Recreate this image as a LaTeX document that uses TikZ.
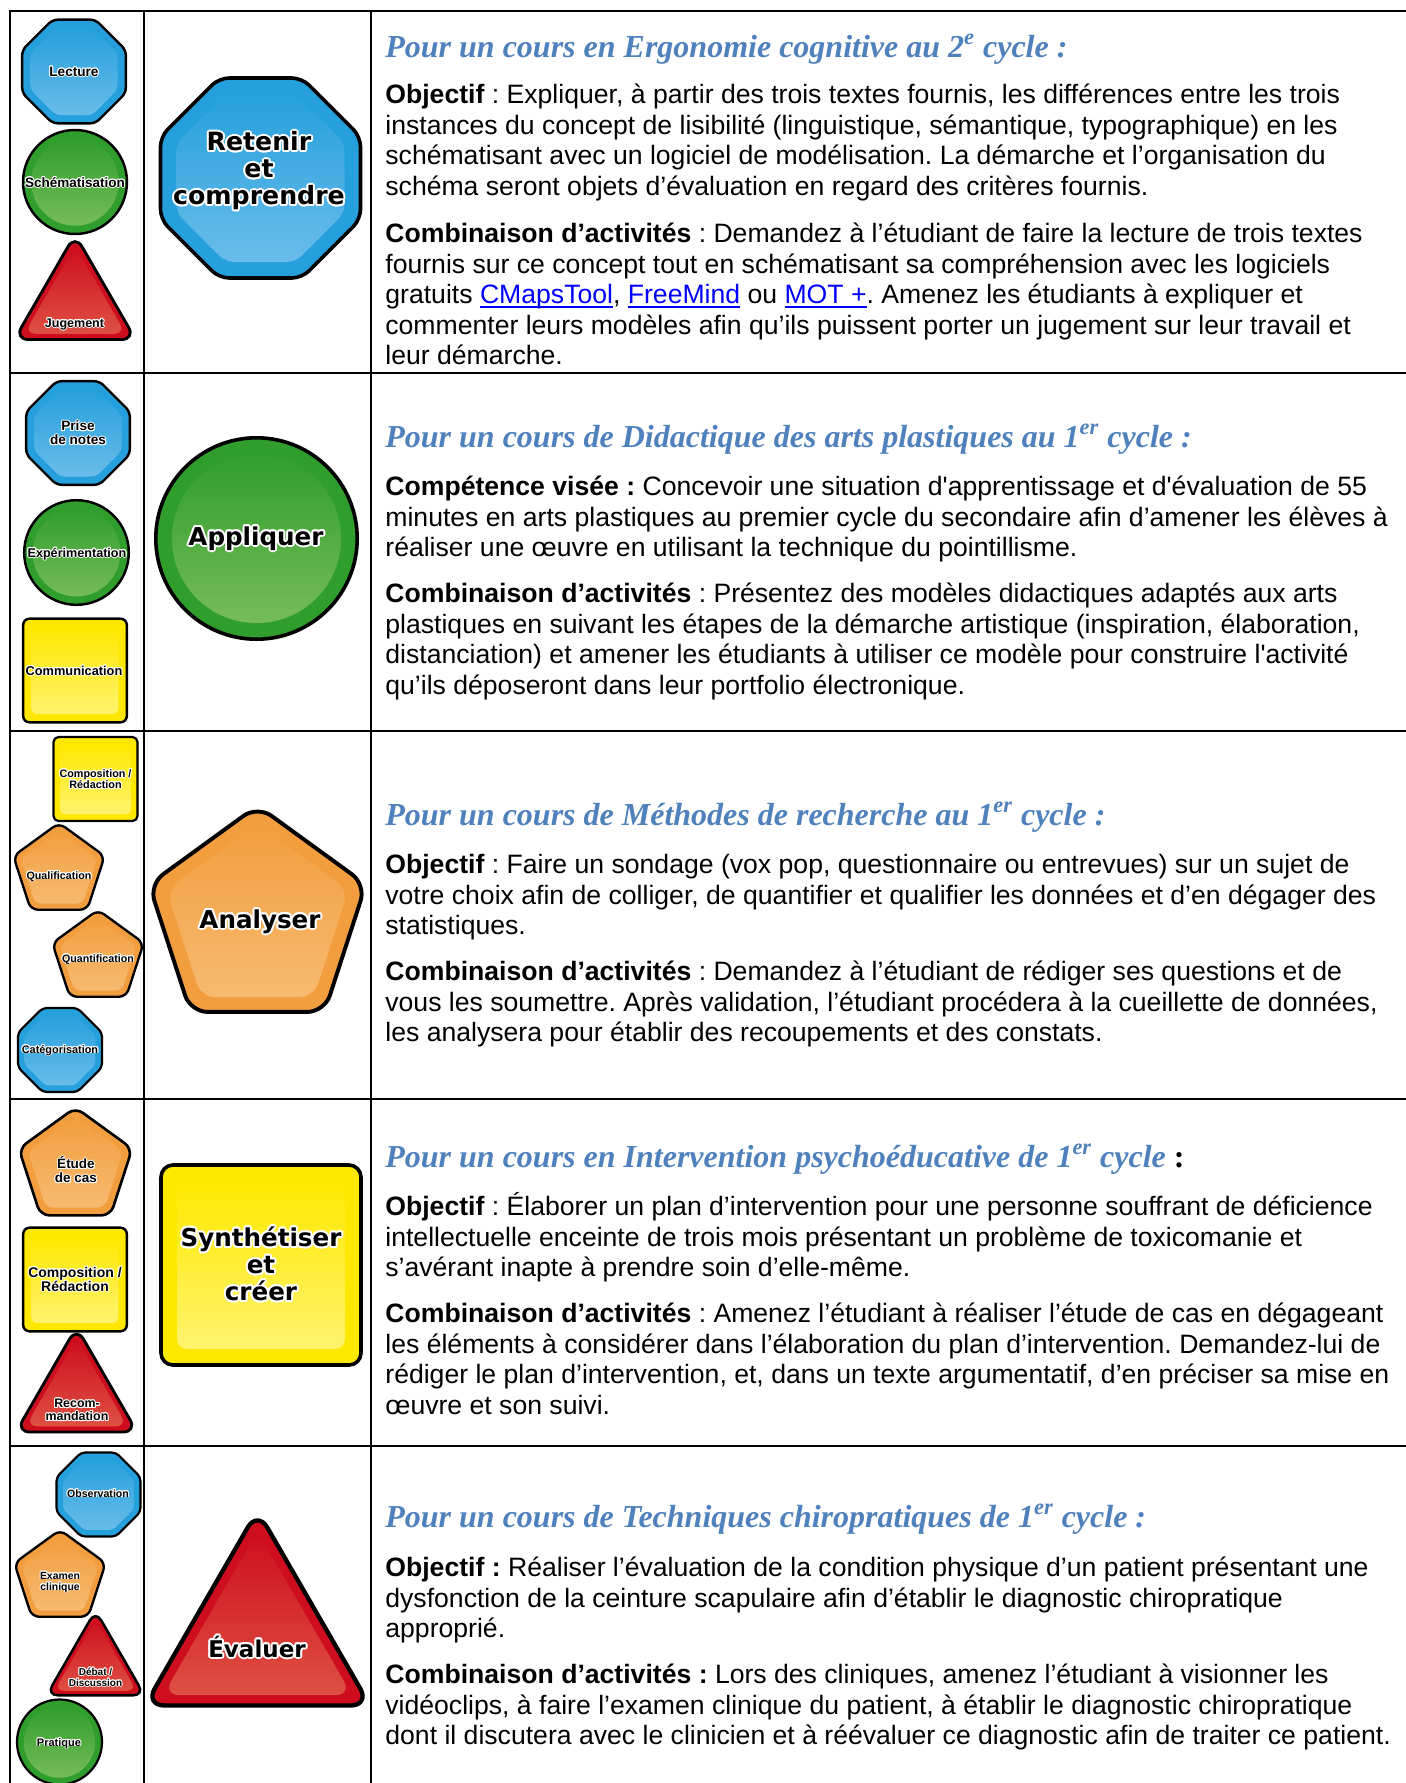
\documentclass[tikz,border=0pt]{standalone}
\usepackage{fontspec}
\setmainfont{Liberation Sans}
\newfontfamily\tnr{Liberation Serif}
\newfontfamily\dvs{DejaVu Sans}
\usetikzlibrary{calc}
\definecolor{headblue}{RGB}{79,129,189}
\definecolor{linkblue}{RGB}{0,0,255}
\definecolor{blueB}{RGB}{38,160,220}
\definecolor{blueL}{RGB}{105,188,234}
\definecolor{greenB}{RGB}{48,158,44}
\definecolor{greenL}{RGB}{118,188,88}
\definecolor{yelB}{RGB}{255,232,0}
\definecolor{yelL}{RGB}{255,243,110}
\definecolor{orB}{RGB}{242,158,62}
\definecolor{orL}{RGB}{247,186,112}
\definecolor{redB}{RGB}{206,14,30}
\definecolor{redL}{RGB}{222,80,66}
\newcommand\glossy[6]{%
 \begin{scope}[shift={(#1,#2)},scale=#3]
  \fill[#4B, rounded corners=#3*#6pt] #5;
  \begin{scope}[scale=0.84]
   \shade[rounded corners=#3*#6*0.84pt, top color=#4B, bottom color=#4L] #5;
  \end{scope}
  \draw[line width=0.6pt+#3*0.012pt, rounded corners=#3*#6pt, line join=round] #5;
 \end{scope}}
\newcommand\octo[3]{\glossy{#1}{#2}{#3}{blue}{(0,-1) -- (0.4142,-1) -- (1,-0.4142) -- (1,0.4142) -- (0.4142,1) -- (-0.4142,1) -- (-1,0.4142) -- (-1,-0.4142) -- (-0.4142,-1) -- cycle}{0.05}}
\newcommand\ball[3]{\glossy{#1}{#2}{#3}{green}{(0,0) circle [radius=1]}{0}}
\newcommand\penta[3]{\glossy{#1}{#2}{#3}{or}{(0,0.809) -- (-0.5878,0.809) -- (-0.9511,-0.309) -- (0,-1) -- (0.9511,-0.309) -- (0.5878,0.809) -- cycle}{0.075}}
\newcommand\tri[4]{\glossy{#1}{#2}{#3}{red}{(0,0.5) -- (-0.866,0.5) -- (0,-1) -- (0.866,0.5) -- cycle}{#4}}
\newcommand\squ[3]{\glossy{#1}{#2}{#3}{yel}{(0,1) -- (-1,1) -- (-1,-1) -- (1,-1) -- (1,1) -- cycle}{0.06}}
\newcommand\lf[2]{\bfseries\fontsize{#1}{#2}\selectfont}
\newcommand\bigf[1]{\dvs\bfseries\fontsize{#1}{13.5}\selectfont}
\tikzset{
 lblhalo/.style={text=white, inner sep=0, align=center},
 lblmain/.style={text=black, inner sep=0, align=center},
 head/.style={anchor=base west, inner sep=0, text=headblue, font=\tnr\bfseries\itshape\fontsize{16}{18}\selectfont},
 body/.style={anchor=north west, inner sep=0, align=left, font=\fontsize{13.3}{15.3}\selectfont\frenchspacing},
 tbl/.style={line width=1.1pt, black, line cap=rect}
}
\newcommand\lbl[7]{%
 \foreach \a in {0,30,...,330}{\node[lblhalo, anchor=#4, font=#5] at ([shift={(\a:#6)}]#2,#3) {#7};}
 \node[lblmain, anchor=#4, font=#5] (#1) at (#2,#3) {#7};}
\newcommand\tstrut{\rule{0pt}{13pt}}
\newcommand\lnk[1]{{\color{linkblue}\setbox0=\hbox{#1}\rlap{\raisebox{-2pt}{\rule{\wd0}{0.7pt}}}\box0}}
\newcommand\sq{\textquotesingle}
\begin{document}
\begin{tikzpicture}[x=0.5pt,y=-0.5pt]
\useasboundingbox (0,0) rectangle (1405,1783);
\fill[white] (0,0) rectangle (1405,1783);
% ---- row 1
\octo{74}{71.5}{51.8}
\ball{75}{182}{52}
\tri{75}{304.5}{70}{0.1}
\octo{260.5}{178}{100}
% ---- row 2
\octo{78}{433}{51.8}
\ball{76.5}{552.5}{52.3}
\squ{75}{670.5}{51.8}
\ball{256.5}{538.5}{100.7}
% ---- row 3
\squ{95.5}{779}{42}
\penta{59}{870.9}{48}
\penta{98}{957.9}{48}
\octo{60}{1050}{42}
\penta{257.5}{919.7}{114}
% ---- row 4
\penta{75.5}{1167.1}{59.6}
\squ{75}{1279.5}{51.8}
\tri{76.5}{1397}{70}{0.1}
\squ{261}{1265}{100}
% ---- row 5
\octo{98.5}{1494.5}{42}
\penta{60}{1577.9}{48}
\tri{95.5}{1667}{56.5}{0.1}
\ball{59.5}{1742}{42.5}
\tri{257.5}{1640.5}{130}{0.075}
% ---- labels
\lbl{lLecture}{74}{76}{base}{\lf{6.8}{7}}{0.5pt}{Lecture}
\lbl{lSchem}{75}{187}{base}{\lf{6.75}{7}}{0.5pt}{Schématisation}
\lbl{lJug}{74.5}{327}{base}{\lf{6.25}{7}}{0.5pt}{Jugement}
\lbl{lRet}{259}{171}{center}{\bigf{12.6}}{1pt}{Retenir\\et\\comprendre}
\lbl{lPrise}{78}{433}{center}{\lf{6.8}{7}}{0.5pt}{Prise\\de notes}
\lbl{lExp}{77}{557}{base}{\lf{6.3}{7}}{0.5pt}{Expérimentation}
\lbl{lComm}{74}{675}{base}{\lf{6.4}{7}}{0.5pt}{Communication}
\lbl{lApp}{256}{545}{base}{\bigf{12.3}}{1pt}{Appliquer}
\lbl{lComp1}{95.5}{779}{center}{\lf{5.4}{5.5}}{0.45pt}{Composition /\\Rédaction}
\lbl{lQual}{59}{879}{base}{\lf{5.35}{6}}{0.45pt}{Qualification}
\lbl{lQuant}{98}{962}{base}{\lf{5.35}{6}}{0.45pt}{Quantification}
\lbl{lCat}{60}{1053}{base}{\lf{5.45}{6}}{0.45pt}{Catégorisation}
\lbl{lAna}{260}{928}{base}{\bigf{12.3}}{1pt}{Analyser}
\lbl{lEtude}{76}{1170}{center}{\lf{6.75}{7}}{0.5pt}{Étude\\de cas}
\lbl{lComp2}{75}{1279}{center}{\lf{7}{7}}{0.5pt}{Composition /\\Rédaction}
\lbl{lRecom}{77}{1410}{center}{\lf{6.2}{6.5}}{0.5pt}{Recom-\\mandation}
\lbl{lSynth}{261}{1264}{center}{\bigf{12.3}}{1pt}{Synthétiser\\et\\créer}
\lbl{lObs}{98}{1497}{base}{\lf{5.3}{6}}{0.45pt}{Observation}
\lbl{lExam}{60}{1582}{center}{\lf{5.2}{5.5}}{0.45pt}{Examen\\clinique}
\lbl{lDeb}{95.5}{1677}{center}{\lf{5}{5.5}}{0.45pt}{Débat /\\Discussion}
\lbl{lPrat}{59}{1746}{base}{\lf{5.5}{6}}{0.45pt}{Pratique}
\lbl{lEval}{257}{1657}{base}{\bigf{11.5}}{1pt}{Évaluer}
% ---- texts row 1
\node[head] (h1) at (385,57) {Pour un cours en Ergonomie cognitive au 2\textsuperscript{e} cycle :};
\node[body] (r1a) at (385,77) {\tstrut\textbf{Objectif} : Expliquer, à partir des trois textes fournis, les différences entre les trois\\instances du concept de lisibilité (linguistique, sémantique, typographique) en les\\schématisant avec un logiciel de modélisation. La démarche et l’organisation du\\schéma seront objets d’évaluation en regard des critères fournis.};
\node[body] (r1b) at (385,216) {\tstrut\textbf{Combinaison d’activités} : Demandez à l’étudiant de faire la lecture de trois textes\\fournis sur ce concept tout en schématisant sa compréhension avec les logiciels\\gratuits \lnk{CMapsTool}, \lnk{FreeMind} ou \lnk{MOT +}. Amenez les étudiants à expliquer et\\commenter leurs modèles afin qu’ils puissent porter un jugement sur leur travail et\\leur démarche.};
% ---- row 2
\node[head] (h2) at (385,447) {Pour un cours de Didactique des arts plastiques au 1\textsuperscript{er} cycle :};
\node[body] (r2a) at (385,469) {\tstrut\textbf{Compétence visée :} Concevoir une situation d\sq apprentissage et d\sq évaluation de 55\\minutes en arts plastiques au premier cycle du secondaire afin d’amener les élèves à\\réaliser une œuvre en utilisant la technique du pointillisme.};
\node[body] (r2b) at (385,576) {\tstrut\textbf{Combinaison d’activités} : Présentez des modèles didactiques adaptés aux arts\\plastiques en suivant les étapes de la démarche artistique (inspiration, élaboration,\\distanciation) et amener les étudiants à utiliser ce modèle pour construire l\sq activité\\qu’ils déposeront dans leur portfolio électronique.};
% ---- row 3
\node[head] (h3) at (385,825) {Pour un cours de Méthodes de recherche au 1\textsuperscript{er} cycle :};
\node[body] (r3a) at (385,847) {\tstrut\textbf{Objectif} : Faire un sondage (vox pop, questionnaire ou entrevues) sur un sujet de\\votre choix afin de colliger, de quantifier et qualifier les données et d’en dégager des\\statistiques.};
\node[body] (r3b) at (385,954) {\tstrut\textbf{Combinaison d’activités} : Demandez à l’étudiant de rédiger ses questions et de\\vous les soumettre. Après validation, l’étudiant procédera à la cueillette de données,\\les analysera pour établir des recoupements et des constats.};
% ---- row 4
\node[head] (h4) at (385,1167) {Pour un cours en Intervention psychoéducative de 1\textsuperscript{er} cycle{\color{black}\upshape\ :}};
\node[body] (r4a) at (385,1189) {\tstrut\textbf{Objectif} : Élaborer un plan d’intervention pour une personne souffrant de déficience\\intellectuelle enceinte de trois mois présentant un problème de toxicomanie et\\s’avérant inapte à prendre soin d’elle-même.};
\node[body] (r4b) at (385,1296) {\tstrut\textbf{Combinaison d’activités} : Amenez l’étudiant à réaliser l’étude de cas en dégageant\\les éléments à considérer dans l’élaboration du plan d’intervention. Demandez-lui de\\rédiger le plan d’intervention, et, dans un texte argumentatif, d’en préciser sa mise en\\œuvre et son suivi.};
% ---- row 5
\node[head] (h5) at (385,1527) {Pour un cours de Techniques chiropratiques de 1\textsuperscript{er} cycle :};
\node[body] (r5a) at (385,1550) {\tstrut\textbf{Objectif :} Réaliser l’évaluation de la condition physique d’un patient présentant une\\dysfonction de la ceinture scapulaire afin d’établir le diagnostic chiropratique\\approprié.};
\node[body] (r5b) at (385,1657) {\tstrut\textbf{Combinaison d’activités :} Lors des cliniques, amenez l’étudiant à visionner les\\vidéoclips, à faire l’examen clinique du patient, à établir le diagnostic chiropratique\\dont il discutera avec le clinicien et à réévaluer ce diagnostic afin de traiter ce patient.};
% ---- table rules
\draw[tbl] (1405,11) -- (10,11) -- (10,1783);
\draw[tbl] (144,11) -- (144,1783);
\draw[tbl] (371,11) -- (371,1783);
\draw[tbl] (10,373) -- (1405,373);
\draw[tbl] (10,731) -- (1405,731);
\draw[tbl] (10,1099) -- (1405,1099);
\draw[tbl] (10,1446) -- (1405,1446);
\end{tikzpicture}
\end{document}
